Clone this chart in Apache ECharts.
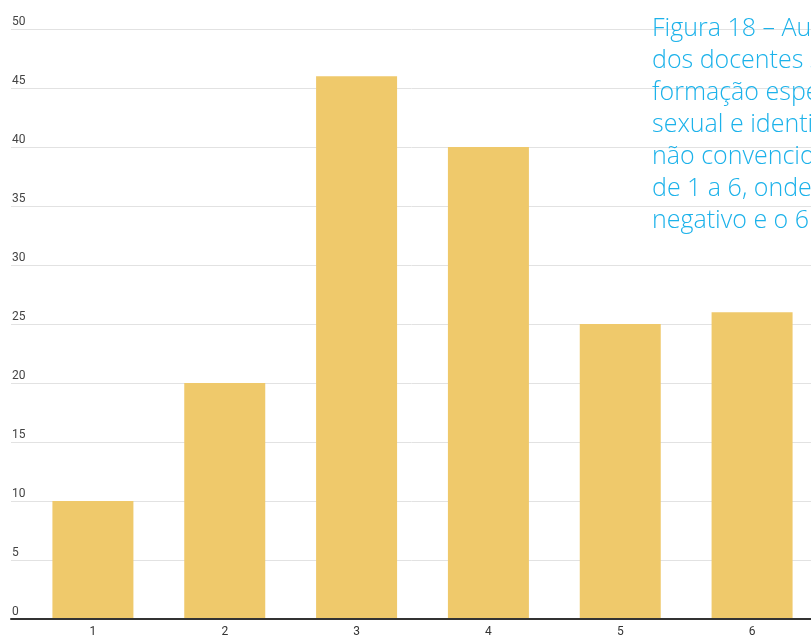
<!DOCTYPE html>
<html>
<head>
<meta charset="utf-8">
<script src="https://cdn.jsdelivr.net/npm/echarts@6/dist/echarts.min.js"></script>
<style>
  html, body { margin: 0; padding: 0; background: #fff; }
  #chart { width: 811px; height: 635px; }
</style>
</head>
<body>
<div id="chart"></div>
<script>
// Scale 1–6 self-assessment, number of teachers per score
const categories = ['1', '2', '3', '4', '5', '6'];
const counts = [10, 20, 46, 40, 25, 26];
const yTicks = { min: 0, max: 50, step: 5 };
const titleLines = [
  'Figura 18 – Autoavaliação',
  'dos docentes sobre a sua',
  'formação específica em orientação',
  'sexual e identidade de gênero',
  'não convencionais, numa escala',
  'de 1 a 6, onde o 1 é o mais',
  'negativo e o 6 o mais positivo'
];

const chart = echarts.init(document.getElementById('chart'), null, { renderer: 'canvas' });

chart.setOption({
  animation: false,
  backgroundColor: '#ffffff',
  grid: [
    // gridlines, value labels and baseline
    { left: 11, top: 29, width: 807, bottom: 16, containLabel: false, outerBoundsMode: 'none' },
    // bars
    { left: 27, top: 29, width: 791, bottom: 16, containLabel: false, outerBoundsMode: 'none' }
  ],
  xAxis: [
    {
      gridIndex: 0, type: 'category', data: [''],
      axisLine: { show: true, lineStyle: { color: '#333333', width: 2 } },
      axisTick: { show: false }, axisLabel: { show: false }, splitLine: { show: false },
      z: 5
    },
    {
      gridIndex: 1, type: 'category', data: categories,
      axisLine: { show: false }, axisTick: { show: false },
      axisLabel: { color: '#333333', fontSize: 12, fontFamily: 'Roboto', margin: 7, verticalAlign: 'top' }
    }
  ],
  yAxis: [
    {
      gridIndex: 0, type: 'value', min: yTicks.min, max: yTicks.max, interval: yTicks.step,
      axisLine: { show: false }, axisTick: { show: false },
      axisLabel: {
        inside: true, margin: 1, verticalAlign: 'bottom', align: 'left',
        color: '#444444', fontSize: 12, fontFamily: 'Roboto', padding: [0, 0, 1, 0]
      },
      splitLine: { show: true, lineStyle: { color: '#e2e2e2', width: 1 } }
    },
    {
      gridIndex: 1, type: 'value', min: yTicks.min, max: yTicks.max, interval: yTicks.step,
      show: false, splitLine: { show: false }
    }
  ],
  series: [
    {
      type: 'bar', xAxisIndex: 1, yAxisIndex: 1,
      data: counts, barWidth: 81,
      itemStyle: { color: '#efc96b' },
      z: 3
    }
  ],
  graphic: [
    {
      type: 'text', left: 652, top: 13, z: 10,
      style: {
        text: titleLines.join('\n'),
        fill: '#1cb2ea',
        font: '300 25px "Open Sans"',
        lineHeight: 32
      }
    }
  ]
});
</script>
</body>
</html>
